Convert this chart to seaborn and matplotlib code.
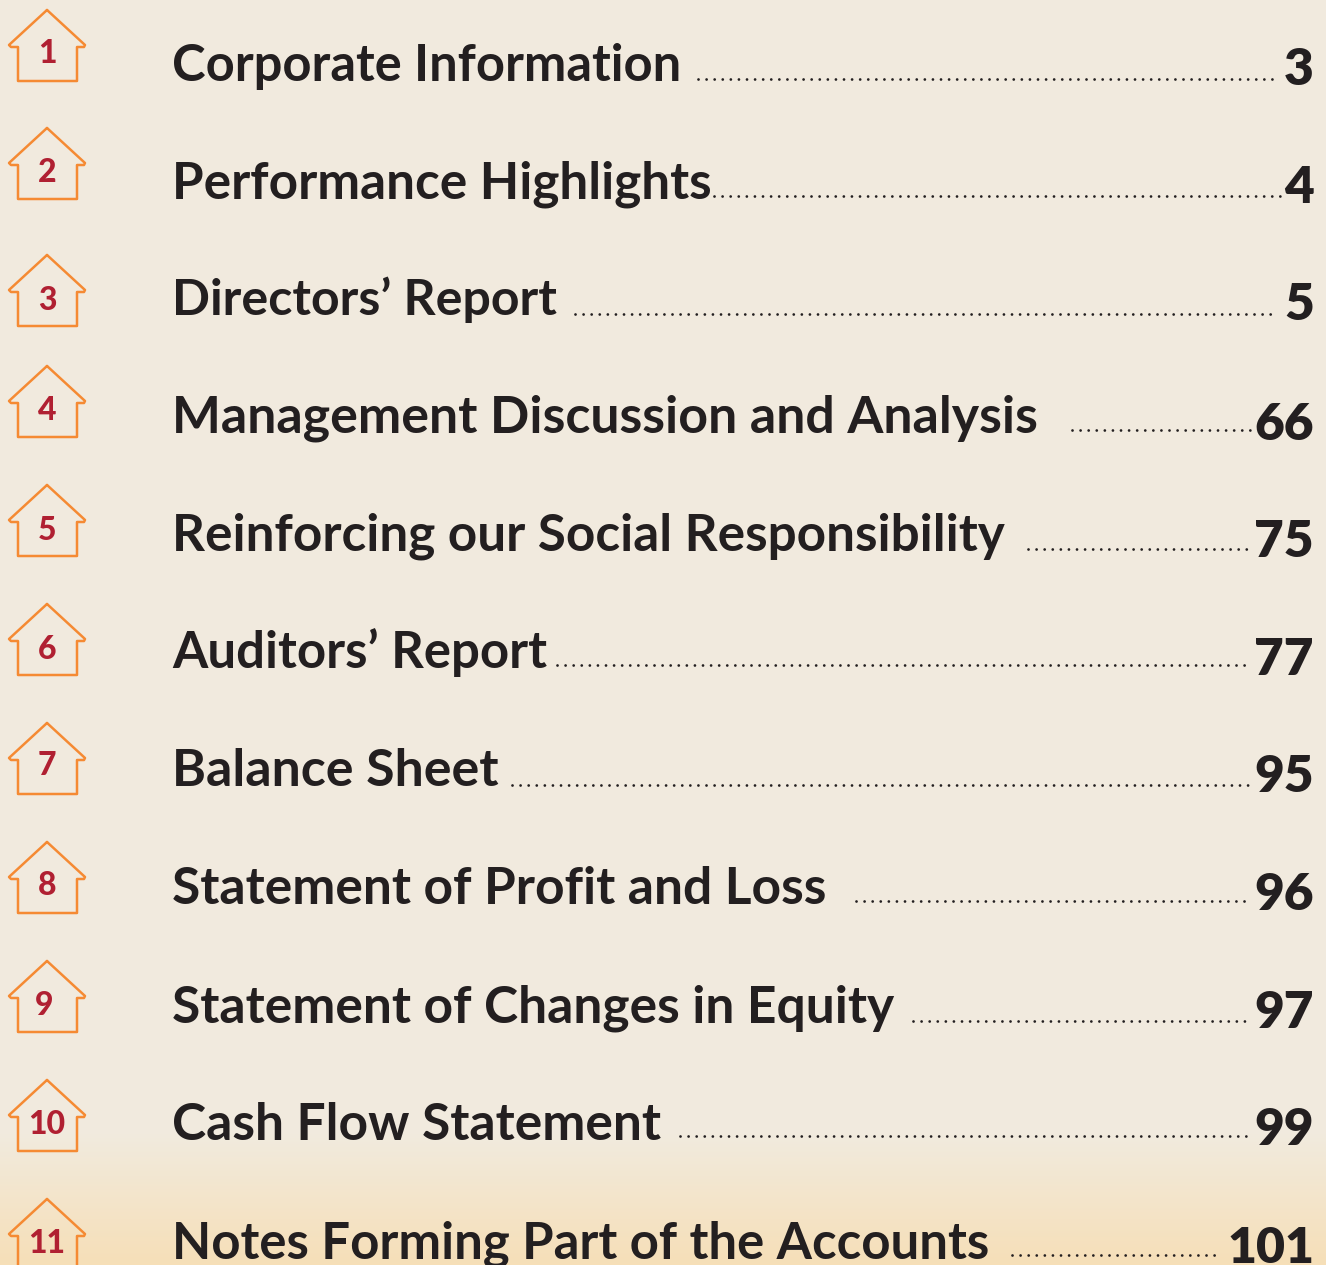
import numpy as np
import seaborn as sns
import matplotlib.pyplot as plt
from matplotlib.colors import LinearSegmentedColormap

numbers = ['1', '2', '3', '4', '5', '6', '7', '8', '9', '10', '11']
titles = ['Corporate Information', 'Performance Highlights', 'Directors\u2019 Report',
          'Management Discussion and Analysis', 'Reinforcing our Social Responsibility',
          'Auditors\u2019 Report', 'Balance Sheet', 'Statement of Profit and Loss',
          'Statement of Changes in Equity', 'Cash Flow Statement',
          'Notes Forming Part of the Accounts']
pages = ['3', '4', '5', '66', '75', '77', '95', '96', '97', '99', '101']

# layout, in pixels of the page
house_top = [10, 128, 255, 366, 485, 604, 723, 842, 961, 1080, 1199]
title_base = [81, 198, 315, 432, 550, 668, 786, 904, 1022, 1140, 1258]
title_end = [681, 712, 558, 1040, 1004, 547, 499, 827, 895, 662, 988]
page_base = [85, 203, 320, 440, 557, 675, 792, 910, 1028, 1145, 1263]
num_center = [51, 170, 298, 408, 528, 647, 763, 883, 1003, 1122, 1241]
num_x = [47, 47, 47, 47, 47, 47, 47, 47, 44, 47, 47]
lead_from = [698, 714, 575, 1072, 1028, 557, 512, 856, 913, 680, 1012]
lead_to = [1278, 1280, 1278, 1250, 1250, 1250, 1250, 1250, 1250, 1250, 1222]
lead_y = [79, 196, 314, 430, 549, 665, 785, 901, 1021, 1136, 1255]

# house outline relative to apex
house_x = np.array([47, 9, 11, 18, 18, 77, 77, 84, 85, 47])
house_y = np.array([0, 35, 37, 37, 71, 71, 37, 37, 35, 0])

sns.set_theme(style='white')
plt.rcParams['font.family'] = ['Lato', 'DejaVu Sans']

fig = plt.figure(figsize=(13.26, 12.65), dpi=100)
ax = fig.add_axes([0, 0, 1, 1])
ax.set_xlim(0, 1326)
ax.set_ylim(1265, 0)

# page background, warms up towards the bottom
cmap = LinearSegmentedColormap.from_list('paper', ['#F1EBDF', '#F1EBDF', '#F6DFB8'])
grad = np.zeros((1265, 1))
grad[1130:, 0] = np.linspace(0.5, 1, 135)
grad[:1130, 0] = 0.5
ax.imshow(grad, extent=(0, 1326, 1265, 0), aspect='auto', cmap=cmap, vmin=0, vmax=1, zorder=0)

renderer = fig.canvas.get_renderer()

for i in range(len(titles)):
    sns.lineplot(x=house_x, y=house_y + house_top[i], ax=ax, sort=False, estimator=None,
                 color='#F58A33', linewidth=1.8, solid_joinstyle='round', legend=False)
    ax.text(num_x[i], num_center[i], numbers[i], color='#B02032', fontsize=23,
            fontweight=900, ha='center', va='center_baseline')
    t = ax.text(172, title_base[i], titles[i], color='#231F20', fontsize=37,
                fontweight='bold', ha='left', va='baseline')
    # Lato runs a bit different in width, so fit each title to its length
    w = t.get_window_extent(renderer).width
    t.set_fontsize(37 * (title_end[i] - 172) / w)
    size = 36 if pages[i] == '101' else 37
    ax.text(1314, page_base[i], pages[i], color='#231F20', fontsize=size,
            fontweight=800, ha='right', va='baseline')
    sns.lineplot(x=[lead_from[i], lead_to[i]], y=[lead_y[i], lead_y[i]], ax=ax, color='#231F20',
                 linewidth=2, linestyle=(0, (0.01, 2.9)), dash_capstyle='round', legend=False)

ax.set_xlim(0, 1326)
ax.set_ylim(1265, 0)
ax.axis('off')

fig.savefig('out.png', dpi=100)
